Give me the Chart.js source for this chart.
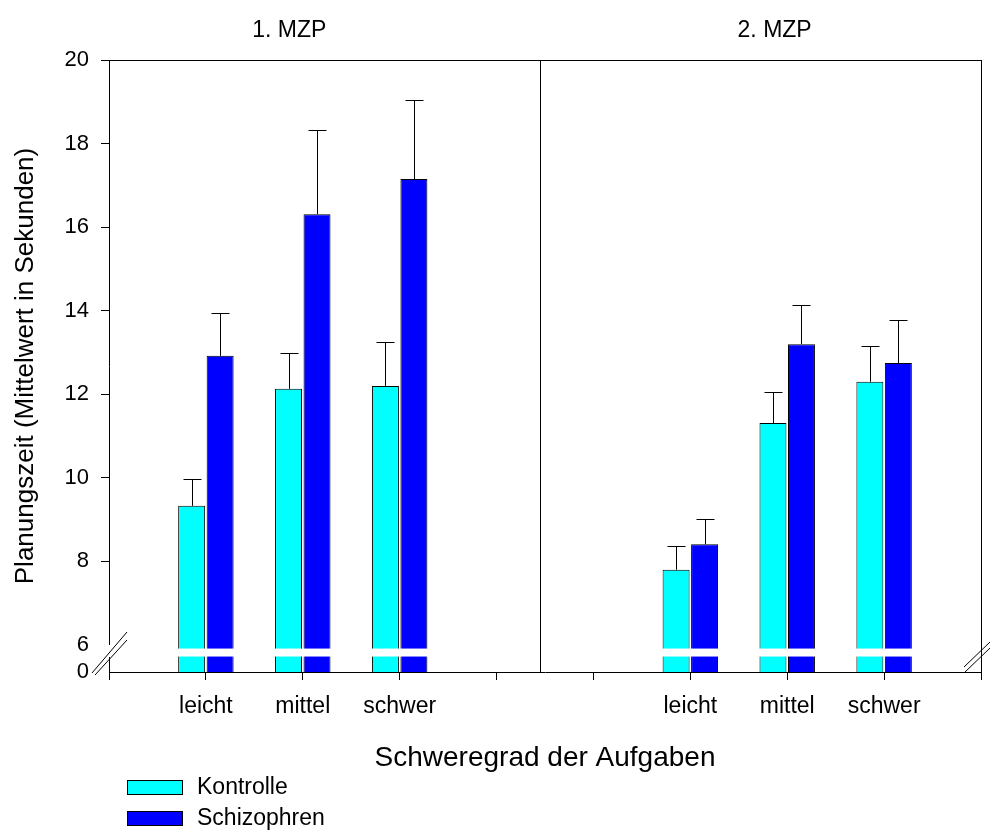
<!DOCTYPE html>
<html>
<head>
<meta charset="utf-8">
<script src="https://cdn.jsdelivr.net/npm/chart.js@4"></script>
<style>
  html, body { margin: 0; padding: 0; background: #fff; }
  #wrap { width: 990px; height: 831px; }
</style>
</head>
<body>
<div id="wrap"><canvas id="chart" width="990" height="831"></canvas></div>
<script>
// categories per panel
const categories = ['leicht', 'mittel', 'schwer'];
const panels = ['1. MZP', '2. MZP'];
const seriesNames = ['Kontrolle', 'Schizophren'];

// mean planning time (s), panel 1 and panel 2
const kontrolle1 = [9.33, 12.13, 12.20];
const kontrolle2 = [7.80, 11.31, 12.30];
const schizo1 = [12.92, 16.31, 17.15];
const schizo2 = [8.41, 13.20, 12.75];

// upper error (s)
const kontrolle1Err = [0.64, 0.85, 1.05];
const kontrolle2Err = [0.58, 0.75, 0.85];
const schizo1Err = [1.03, 2.01, 1.90];
const schizo2Err = [0.60, 0.94, 1.03];

const yTicks = [6, 8, 10, 12, 14, 16, 18, 20];
const yMin = 5.354;   // where the broken axis shows "0"
const yMax = 20;

// slots on the x axis: 0..9, panel 1 uses 1-3, panel 2 uses 6-8
const nSlots = 10;
const slots1 = [1, 2, 3];
const slots2 = [6, 7, 8];

function place(a, b, fill) {
  const arr = Array(nSlots).fill(fill);
  a.forEach((v, i) => arr[slots1[i]] = v);
  b.forEach((v, i) => arr[slots2[i]] = v);
  return arr;
}

const xLabels = place(categories, categories, '');
const errs = [place(kontrolle1Err, kontrolle2Err, null), place(schizo1Err, schizo2Err, null)];

const FONT = 'Arial, "Liberation Sans", sans-serif';

const extras = {
  id: 'extras',
  afterDatasetsDraw(chart) {
    const ctx = chart.ctx;
    const y = chart.scales.y;
    ctx.save();
    // error bars (upward only)
    ctx.strokeStyle = '#000';
    ctx.lineWidth = 1;
    chart.data.datasets.forEach((ds, di) => {
      const meta = chart.getDatasetMeta(di);
      meta.data.forEach((bar, i) => {
        if (ds.data[i] == null || errs[di][i] == null) return;
        const top = y.getPixelForValue(ds.data[i] + errs[di][i]);
        const x = Math.round(bar.x) + 0.5;
        ctx.beginPath();
        ctx.moveTo(x, bar.y);
        ctx.lineTo(x, Math.round(top) + 0.5);
        ctx.moveTo(x - 9, Math.round(top) + 0.5);
        ctx.lineTo(x + 9, Math.round(top) + 0.5);
        ctx.stroke();
      });
    });
    // white break band across the bars
    const bTop = y.getPixelForValue(5.915);
    const bBot = y.getPixelForValue(5.724);
    ctx.fillStyle = '#fff';
    chart.data.datasets.forEach((ds, di) => {
      chart.getDatasetMeta(di).data.forEach((bar, i) => {
        if (ds.data[i] == null) return;
        ctx.fillRect(bar.x - bar.width / 2 - 1.5, bTop, bar.width + 3, bBot - bTop);
      });
    });
    ctx.restore();
  },
  afterDraw(chart) {
    const ctx = chart.ctx;
    const a = chart.chartArea;
    const x = chart.scales.x;
    ctx.save();
    // frame top / right and panel divider
    ctx.strokeStyle = '#000';
    ctx.lineWidth = 1;
    ctx.beginPath();
    ctx.moveTo(a.left, a.top + 0.5);
    ctx.lineTo(a.right, a.top + 0.5);
    ctx.moveTo(a.right + 0.5, a.top);
    ctx.lineTo(a.right + 0.5, a.bottom + 8);
    const dx = Math.round(x.getPixelForValue(4.45)) + 0.5;
    ctx.moveTo(dx, a.top);
    ctx.lineTo(dx, a.bottom);
    ctx.stroke();

    // axis break on the left
    ctx.fillStyle = '#fff';
    ctx.fillRect(a.left - 3, a.bottom - 27, 6, 12);
    ctx.beginPath();
    ctx.moveTo(a.left - 17, a.bottom + 1);
    ctx.lineTo(a.left + 18, a.bottom - 40);
    ctx.moveTo(a.left - 14, a.bottom + 3);
    ctx.lineTo(a.left + 18, a.bottom - 32);
    // axis break on the right
    ctx.moveTo(a.right - 17, a.bottom - 5);
    ctx.lineTo(a.right + 9, a.bottom - 30);
    ctx.moveTo(a.right - 17, a.bottom + 1);
    ctx.lineTo(a.right + 9, a.bottom - 24);
    ctx.stroke();

    // panel titles
    ctx.fillStyle = '#000';
    ctx.font = '23px ' + FONT;
    ctx.textAlign = 'center';
    ctx.textBaseline = 'middle';
    ctx.fillText(panels[0], x.getPixelForValue(1.86), 31);
    ctx.fillText(panels[1], x.getPixelForValue(6.87), 31);

    // legend
    ctx.textAlign = 'left';
    chart.data.datasets.forEach((ds, i) => {
      const cy = 787 + i * 31;
      ctx.fillStyle = ds.backgroundColor;
      ctx.fillRect(127, cy - 7, 55, 14);
      ctx.strokeStyle = '#000';
      ctx.strokeRect(127.5, cy - 6.5, 55, 14);
      ctx.fillStyle = '#000';
      ctx.fillText(ds.label, 197, cy + 1);
    });
    ctx.restore();
  }
};

new Chart(document.getElementById('chart').getContext('2d'), {
  type: 'bar',
  data: {
    labels: xLabels,
    datasets: [{
      label: seriesNames[0],
      data: place(kontrolle1, kontrolle2, null),
      backgroundColor: '#00ffff',
      borderColor: '#000',
      borderWidth: 1,
      borderSkipped: 'start'
    }, {
      label: seriesNames[1],
      data: place(schizo1, schizo2, null),
      backgroundColor: '#0000ff',
      borderColor: '#000',
      borderWidth: 1,
      borderSkipped: 'start'
    }]
  },
  options: {
    responsive: false,
    animation: false,
    devicePixelRatio: 1,
    categoryPercentage: 0.588,
    barPercentage: 0.947,
    layout: { padding: { top: 60, right: 9, left: 0, bottom: 0 } },
    plugins: {
      legend: { display: false },
      tooltip: { enabled: false }
    },
    scales: {
      x: {
        type: 'category',
        offset: false,
        grid: { offset: false, drawOnChartArea: false, tickLength: 8, color: '#000' },
        border: { color: '#000', width: 1 },
        ticks: {
          autoSkip: false, maxRotation: 0, padding: 5,
          color: '#000', font: { family: FONT, size: 23, lineHeight: 1.9 }
        },
        title: {
          display: true, text: 'Schweregrad der Aufgaben', color: '#000',
          font: { family: FONT, size: 28 }, padding: { top: 0, bottom: 56 }
        },
        afterFit(scale) { scale.height = 159; }
      },
      y: {
        min: yMin, max: yMax,
        grid: {
          drawOnChartArea: false, tickLength: 8,
          tickColor: (c) => (c.tick && c.tick.value < 7 ? 'rgba(0,0,0,0)' : '#000')
        },
        border: { color: '#000', width: 1 },
        afterBuildTicks(scale) {
          scale.ticks = [yMin].concat(yTicks).map(v => ({ value: v }));
        },
        ticks: {
          padding: 12, color: '#000', font: { family: FONT, size: 22 },
          callback: (v) => (v < 6 ? '0' : String(v))
        },
        title: {
          display: true, text: 'Planungszeit (Mittelwert in Sekunden)', color: '#000',
          font: { family: FONT, size: 26 }, padding: { top: 10, bottom: 0 }
        },
        afterFit(scale) { scale.width = 109; }
      }
    }
  },
  plugins: [extras]
});
</script>
</body>
</html>
